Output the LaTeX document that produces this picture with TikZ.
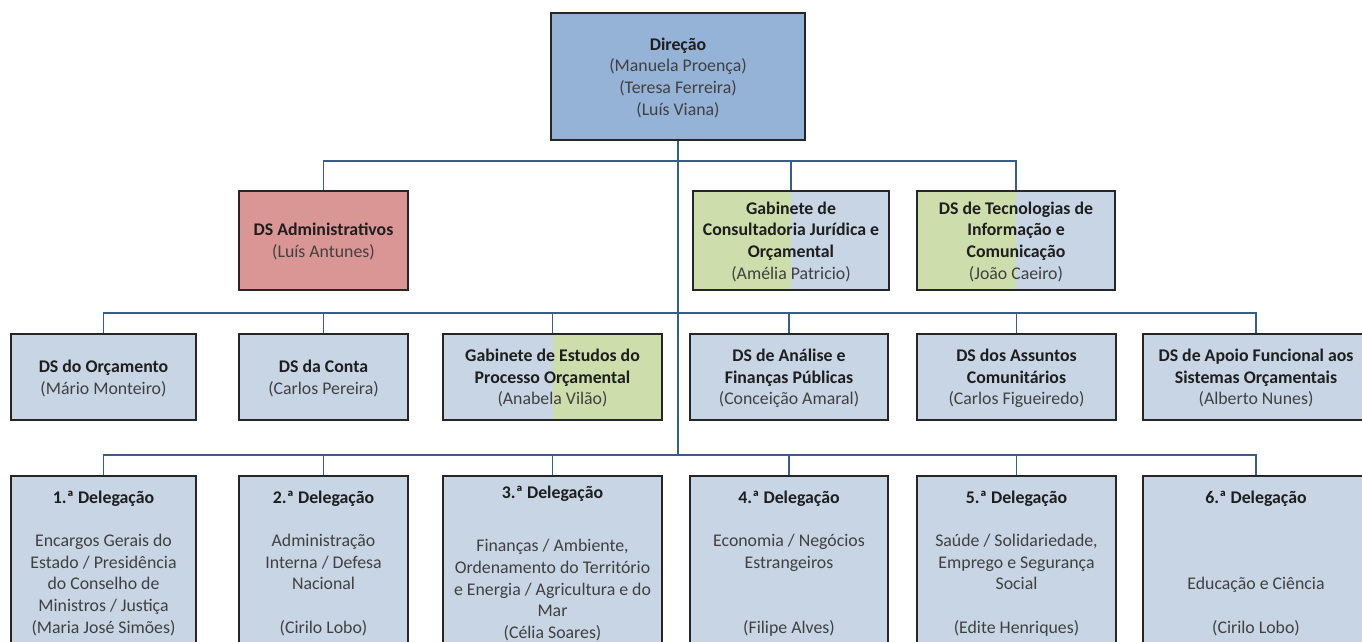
\documentclass[tikz,border=0pt]{standalone}
\usepackage{fontspec}
\setmainfont{Carlito}
\definecolor{boxblue}{RGB}{200,213,228}
\definecolor{boxgreen}{RGB}{205,221,171}
\definecolor{boxred}{RGB}{217,150,148}
\definecolor{dirblue}{RGB}{149,179,215}
\definecolor{connblue}{RGB}{56,93,138}
\definecolor{txtdark}{RGB}{30,30,30}
\definecolor{txtgray}{RGB}{64,64,64}
\newcommand{\ttl}[1]{{\bfseries\color{txtdark}#1}}
\begin{document}
\begin{tikzpicture}[x=1pt,y=-1pt,
  unit/.style={rectangle, draw=black!85, line width=1.6pt, fill=boxblue,
    align=center, inner sep=0pt, text=txtgray, text depth=0pt,
    font=\fontsize{17.8}{21.7}\selectfont},
  conn/.style={draw=connblue, line width=1.8pt},
  splitgb/.style={path picture={
    \fill[boxgreen] (path picture bounding box.south west) rectangle (path picture bounding box.north);}},
  splitbg/.style={path picture={
    \fill[boxgreen] (path picture bounding box.south) rectangle (path picture bounding box.north east);}}
]
\useasboundingbox (0,0) rectangle (1362,641);
\clip (0,0) rectangle (1362,641);
\coordinate (b2) at (678,161);
\coordinate (b3) at (678,313);
\coordinate (b4) at (678,455);

% top
\node[unit, fill=dirblue, minimum width=254pt, minimum height=127pt] (dir) at (678,76.5)
  {\ttl{Direção}\\(Manuela Proença)\\(Teresa Ferreira)\\(Luís Viana)};

% row 2
\node[unit, fill=boxred, minimum width=169pt, minimum height=99pt] (adm) at (323.5,240.5)
  {\ttl{DS Administrativos}\\(Luís Antunes)};
\node[unit, splitgb, minimum width=196pt, minimum height=99pt] (gcj) at (791,240.5)
  {\ttl{Gabinete de}\\\ttl{Consultadoria Jurídica e}\\\ttl{Orçamental}\\(Amélia Patricio)};
\node[unit, splitgb, minimum width=198pt, minimum height=99pt] (dsti) at (1016,240.5)
  {\ttl{DS de Tecnologias de}\\\ttl{Informação e}\\\ttl{Comunicação}\\(João Caeiro)};

% row 3
\node[unit, minimum width=185pt, minimum height=86pt] (orc) at (103.5,377)
  {\ttl{DS do Orçamento}\\(Mário Monteiro)};
\node[unit, minimum width=169pt, minimum height=86pt] (conta) at (323.5,377)
  {\ttl{DS da Conta}\\(Carlos Pereira)};
\node[unit, splitbg, minimum width=219pt, minimum height=86pt] (gep) at (552.5,377)
  {\ttl{Gabinete de Estudos do}\\\ttl{Processo Orçamental}\\(Anabela Vilão)};
\node[unit, minimum width=198pt, minimum height=86pt] (ana) at (789,377)
  {\ttl{DS de Análise e}\\\ttl{Finanças Públicas}\\(Conceição Amaral)};
\node[unit, minimum width=199pt, minimum height=86pt] (ass) at (1016.5,377)
  {\ttl{DS dos Assuntos}\\\ttl{Comunitários}\\(Carlos Figueiredo)};
\node[unit, minimum width=226pt, minimum height=86pt] (apo) at (1256,377)
  {\ttl{DS de Apoio Funcional aos}\\\ttl{Sistemas Orçamentais}\\(Alberto Nunes)};

% row 4
\node[unit, minimum width=185pt, minimum height=172pt] (d1) at (103.5,562)
  {\ttl{1.ª Delegação}\\[21.7pt]Encargos Gerais do\\Estado / Presidência\\do Conselho de\\Ministros / Justiça\\(Maria José Simões)};
\node[unit, minimum width=169pt, minimum height=172pt] (d2) at (323.5,562)
  {\ttl{2.ª Delegação}\\[21.7pt]Administração\\Interna / Defesa\\Nacional\\[21.7pt](Cirilo Lobo)};
\node[unit, minimum width=219pt, minimum height=172pt] (d3) at (552.5,562)
  {\ttl{3.ª Delegação}\\[32pt]Finanças / Ambiente,\\Ordenamento do Território\\e Energia / Agricultura e do\\Mar\\(Célia Soares)};
\node[unit, minimum width=198pt, minimum height=172pt] (d4) at (789,562)
  {\ttl{4.ª Delegação}\\[21.7pt]Economia / Negócios\\Estrangeiros\\[43.4pt](Filipe Alves)};
\node[unit, minimum width=199pt, minimum height=172pt] (d5) at (1016.5,562)
  {\ttl{5.ª Delegação}\\[21.7pt]Saúde / Solidariedade,\\Emprego e Segurança\\Social\\[21.7pt](Edite Henriques)};
\node[unit, minimum width=226pt, minimum height=172pt] (d6) at (1256,562)
  {\ttl{6.ª Delegação}\\[64.8pt]Educação e Ciência\\[21.7pt](Cirilo Lobo)};

% connectors
\draw[conn] (dir.south) -- (dir.south |- b4);
\draw[conn] (adm.north) |- (dsti.north |- b2) -- (dsti.north);
\draw[conn] (gcj.north) -- (gcj.north |- b2);

\draw[conn] (orc.north) |- (apo.north |- b3) -- (apo.north);
\foreach \n in {conta,gep,ana,ass} \draw[conn] (\n.north) -- (\n.north |- b3);

\draw[conn] (d1.north) |- (d6.north |- b4) -- (d6.north);
\foreach \n in {d2,d3,d4,d5} \draw[conn] (\n.north) -- (\n.north |- b4);
\end{tikzpicture}
\end{document}
